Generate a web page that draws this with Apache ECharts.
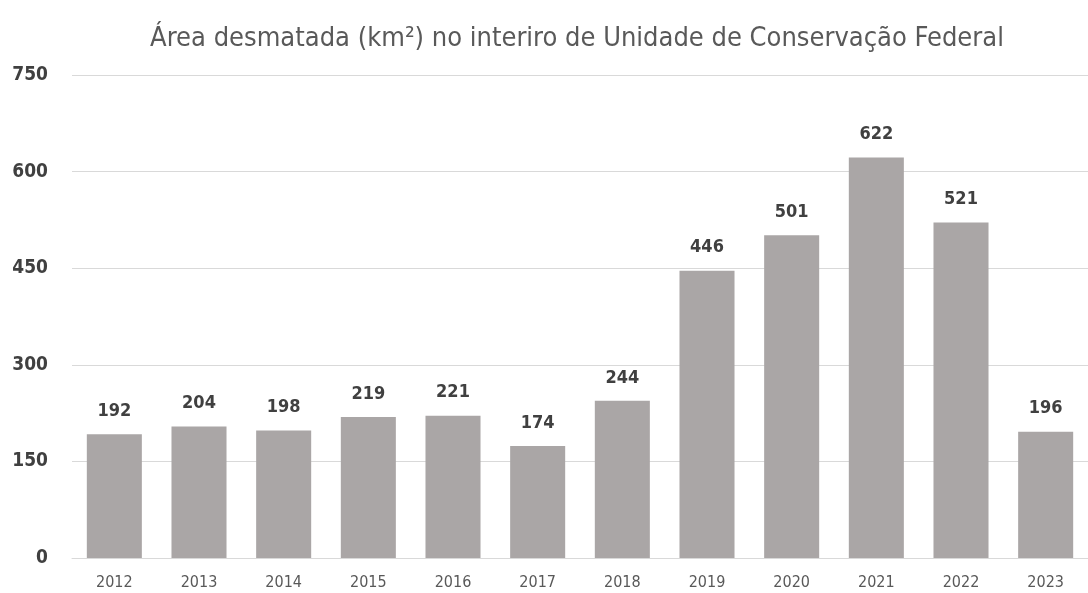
<!DOCTYPE html>
<html><head><meta charset="utf-8">
<script src="https://cdn.jsdelivr.net/npm/echarts@6/dist/echarts.min.js"></script>
<style>html,body{margin:0;padding:0;background:#fff}#c{width:1088px;height:593px}</style>
</head><body><div id="c"></div>
<script>
const categories = ['2012','2013','2014','2015','2016','2017','2018','2019','2020','2021','2022','2023'];
const values = [192,204,198,219,221,174,244,446,501,622,521,196];
const yTicks = [0,150,300,450,600,750];

const chart = echarts.init(document.getElementById('c'));
chart.setOption({
  animation:false,
  backgroundColor:'#ffffff',
  title:{
    text:'Área desmatada (km²) no interiro de Unidade de Conservação Federal',
    left:572, top:20, textAlign:'center',
    textStyle:{fontFamily:'DejaVu Sans Condensed', fontSize:27, fontWeight:'normal', color:'#595959'}
  },
  grid:{left:72, top:75, width:1027, bottom:35, containLabel:false},
  xAxis:{
    type:'category', data:categories,
    axisLine:{show:true, lineStyle:{color:'#d9d9d9'}},
    axisTick:{show:false},
    axisLabel:{fontFamily:'DejaVu Sans Condensed', fontSize:16, color:'#595959', margin:17}
  },
  yAxis:{
    type:'value', min:yTicks[0], max:yTicks[yTicks.length-1], interval:150,
    axisLine:{show:false}, axisTick:{show:false},
    splitLine:{lineStyle:{color:'#d9d9d9', width:1}},
    axisLabel:{fontFamily:'DejaVu Sans Condensed', fontWeight:'bold', fontSize:19, color:'#404040', align:'right', margin:24}
  },
  series:[{
    type:'bar', data:values, barCategoryGap:'35%',
    itemStyle:{color:'#aaa6a6'},
    label:{show:true, position:'top', distance:14, fontFamily:'DejaVu Sans Condensed', fontWeight:'bold', fontSize:18, color:'#404040'}
  }]
});
</script></body></html>
